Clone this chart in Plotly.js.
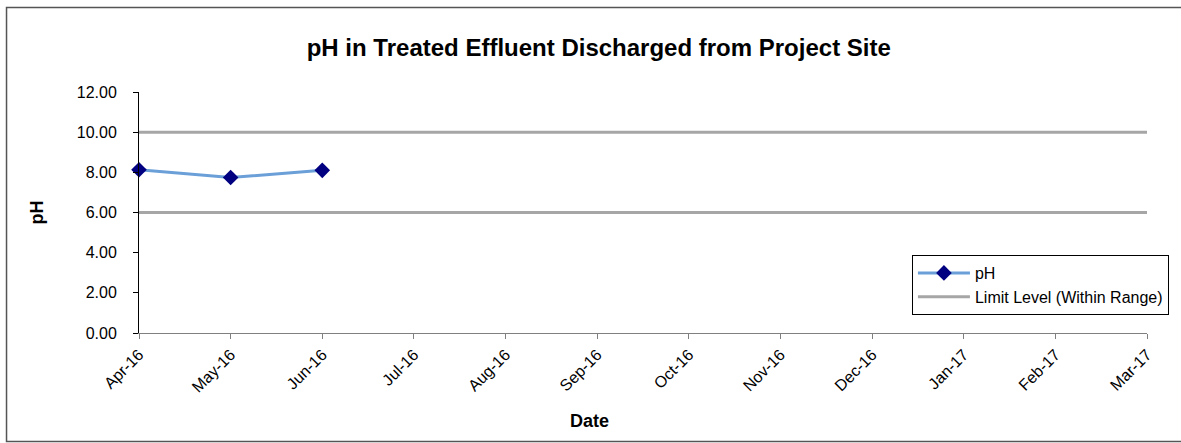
<!DOCTYPE html>
<html>
<head>
<meta charset="utf-8">
<script src="https://cdn.plot.ly/plotly-3.0.1.min.js"></script>
<style>html,body{margin:0;padding:0;background:#fff;}#chart{width:1181px;height:443px;}</style>
</head>
<body>
<div id="chart"></div>
<script>
var months = ["Apr-16","May-16","Jun-16","Jul-16","Aug-16","Sep-16","Oct-16","Nov-16","Dec-16","Jan-17","Feb-17","Mar-17"];
var phMonths = ["Apr-16","May-16","Jun-16"];
var phValues = [8.13, 7.74, 8.10];
var upperLimit = 10;
var lowerLimit = 6;
var yTicks = [0, 2, 4, 6, 8, 10, 12];

var FONT = "Liberation Sans, Arial, sans-serif";
var first = months[0], last = months[months.length - 1];

var traces = [
  {
    x: phMonths, y: phValues, name: "pH", type: "scatter", mode: "lines+markers",
    line: {color: "#6A9FD8", width: 3},
    marker: {symbol: "diamond", size: 12, color: "#000080"},
    cliponaxis: false
  },
  {
    x: [first, last], y: [upperLimit, upperLimit], name: "Limit Level (Within Range)",
    type: "scatter", mode: "lines", legendgroup: "lim",
    line: {color: "#A6A6A6", width: 3}, hoverinfo: "skip"
  },
  {
    x: [first, last], y: [lowerLimit, lowerLimit], name: "Limit Level (Within Range)",
    type: "scatter", mode: "lines", legendgroup: "lim", showlegend: false,
    line: {color: "#A6A6A6", width: 3}, hoverinfo: "skip"
  }
];

var layout = {
  width: 1181, height: 443,
  margin: {l: 139, r: 30, t: 92, b: 110},
  paper_bgcolor: "#fff", plot_bgcolor: "#fff",
  font: {family: FONT, color: "#000", size: 15.5},
  showlegend: true,
  title: {
    text: "<b>pH in Treated Effluent Discharged from Project Site</b>",
    font: {family: FONT, size: 24, color: "#000"},
    xref: "container", x: 0.507, xanchor: "center",
    yref: "container", y: 1 - 48/443, yanchor: "middle"
  },
  xaxis: {
    type: "category", categoryarray: months, categoryorder: "array",
    range: [0, months.length - 1],
    showgrid: false, zeroline: false,
    showline: true, linecolor: "#808080", linewidth: 1,
    ticks: "outside", ticklen: 5, tickcolor: "#808080",
    tickangle: -45, tickfont: {family: FONT, size: 16, color: "#000"},
    fixedrange: true
  },
  yaxis: {
    range: [0, 12], tickvals: yTicks, tickformat: ".2f",
    showgrid: false, zeroline: false,
    showline: true, linecolor: "#000", linewidth: 1,
    ticks: "outside", ticklen: 5, tickcolor: "#000",
    ticklabelstandoff: 13,
    tickfont: {family: FONT, size: 16, color: "#000"},
    title: {text: "<b>pH</b>", font: {family: FONT, size: 18, color: "#000"}, standoff: 28},
    fixedrange: true
  },
  legend: {
    x: (915 - 139) / 1012, xanchor: "left",
    y: (333 - 255) / 241, yanchor: "top",
    bgcolor: "#fff", bordercolor: "#000", borderwidth: 1,
    font: {family: FONT, size: 16, color: "#000"},
    itemwidth: 52,
    tracegroupgap: 0
  },
  annotations: [
    {text: "<b>Date</b>", xref: "paper", yref: "paper",
     x: (591.7 - 139) / 1012, y: (333 - 421) / 241, xanchor: "center", yanchor: "middle",
     showarrow: false, font: {family: FONT, size: 18, color: "#000"}}
  ],
  shapes: [
    {type: "rect", xref: "paper", yref: "paper",
     x0: (6 - 139) / 1012, x1: (1200 - 139) / 1012,
     y0: (333 - 441.5) / 241, y1: (333 - 7.5) / 241,
     line: {color: "#555", width: 1.5}, fillcolor: "rgba(0,0,0,0)"}
  ]
};

Plotly.newPlot("chart", traces, layout, {displayModeBar: false, staticPlot: true});
</script>
</body>
</html>
